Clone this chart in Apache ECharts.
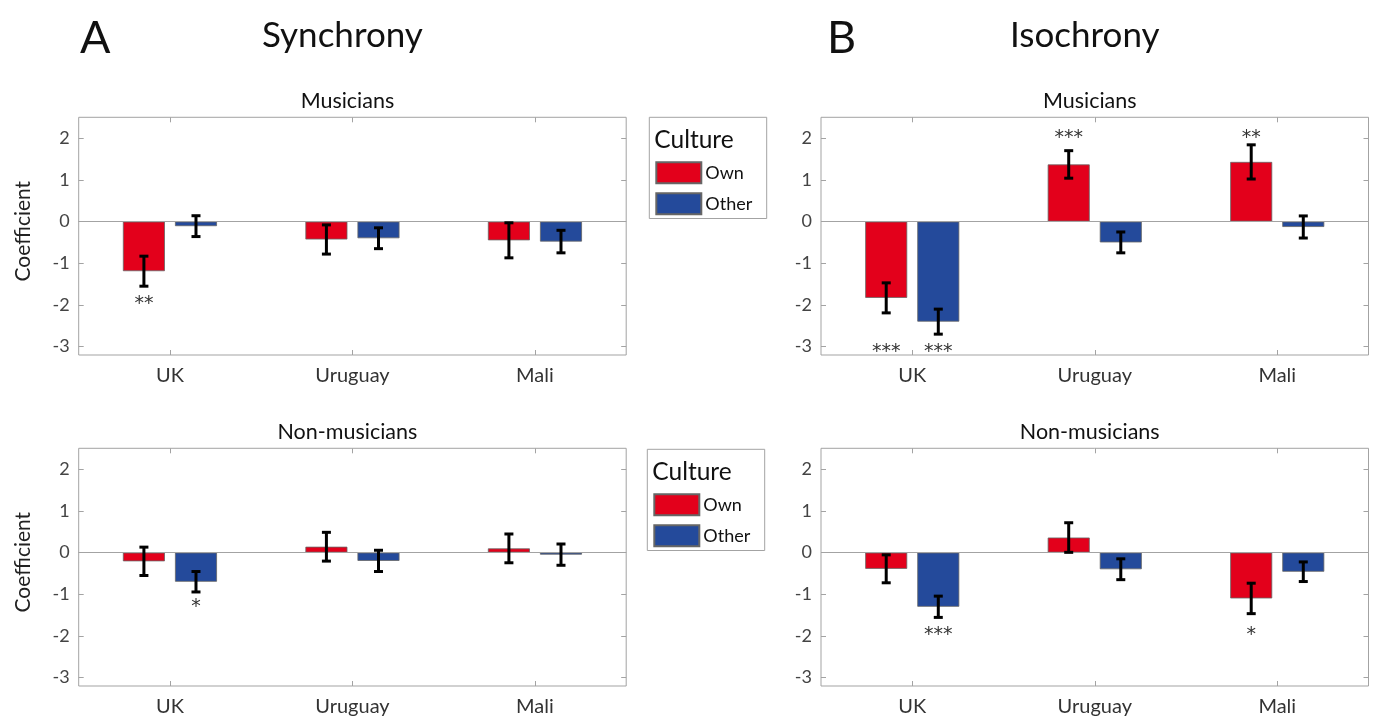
<!DOCTYPE html>
<html>
<head>
<meta charset="utf-8">
<script src="https://cdn.jsdelivr.net/npm/echarts@6/dist/echarts.min.js"></script>
<style>
  html, body { margin: 0; padding: 0; background: #fff; }
  #chart { width: 1378px; height: 718px; }
</style>
</head>
<body>
<div id="chart"></div>
<script>
// ---------- data ----------
const categories = ['UK', 'Uruguay', 'Mali'];
const yTicks = [-3, -2, -1, 0, 1, 2];
const legendNames = ['Own', 'Other'];

// Synchrony – Musicians
const syncMusOwn = [-1.19, -0.43, -0.45];
const syncMusOwnErr = [0.36, 0.35, 0.42];
const syncMusOther = [-0.11, -0.40, -0.48];
const syncMusOtherErr = [0.25, 0.25, 0.27];
const syncMusOwnStars = ['**', '', ''];
const syncMusOwnStarY = [-1.86, null, null];
const syncMusOtherStars = ['', '', ''];
const syncMusOtherStarY = [null, null, null];

// Isochrony – Musicians
const isoMusOwn = [-1.83, 1.37, 1.43];
const isoMusOwnErr = [0.36, 0.33, 0.41];
const isoMusOther = [-2.40, -0.50, -0.13];
const isoMusOtherErr = [0.30, 0.25, 0.265];
const isoMusOwnStars = ['***', '***', '**'];
const isoMusOwnStarY = [-3.02, 2.10, 2.10];
const isoMusOtherStars = ['***', '', ''];
const isoMusOtherStarY = [-3.02, null, null];

// Synchrony – Non-musicians
const syncNonOwn = [-0.21, 0.14, 0.10];
const syncNonOwnErr = [0.34, 0.345, 0.345];
const syncNonOther = [-0.70, -0.20, -0.05];
const syncNonOtherErr = [0.245, 0.255, 0.255];
const syncNonOwnStars = ['', '', ''];
const syncNonOwnStarY = [null, null, null];
const syncNonOtherStars = ['*', '', ''];
const syncNonOtherStarY = [-1.20, null, null];

// Isochrony – Non-musicians
const isoNonOwn = [-0.39, 0.36, -1.10];
const isoNonOwnErr = [0.335, 0.355, 0.365];
const isoNonOther = [-1.30, -0.40, -0.46];
const isoNonOtherErr = [0.255, 0.25, 0.235];
const isoNonOwnStars = ['', '', '*'];
const isoNonOwnStarY = [null, null, -1.87];
const isoNonOtherStars = ['***', '', ''];
const isoNonOtherStarY = [-1.87, null, null];

// ---------- style / layout ----------
const FONT = 'Lato';
const STAR_FONT = '"DejaVu Sans"';
const RED = '#e3001b';
const BLUE = '#244a9b';
const AXIS_GRAY = '#a3a3a3';
const BAR_W = 42;
const BAR_GAP = 0.24;
const OFF = BAR_W * (1 + BAR_GAP) / 2;
const Y_MIN = -3.2, Y_MAX = 2.5;

const panels = [
  { left: 78.7, top: 117.3, sub: 'Musicians', yName: true,
    own: syncMusOwn, ownErr: syncMusOwnErr, other: syncMusOther, otherErr: syncMusOtherErr,
    ownStars: syncMusOwnStars, ownStarY: syncMusOwnStarY, otherStars: syncMusOtherStars, otherStarY: syncMusOtherStarY },
  { left: 821, top: 117.3, sub: 'Musicians', yName: false,
    own: isoMusOwn, ownErr: isoMusOwnErr, other: isoMusOther, otherErr: isoMusOtherErr,
    ownStars: isoMusOwnStars, ownStarY: isoMusOwnStarY, otherStars: isoMusOtherStars, otherStarY: isoMusOtherStarY },
  { left: 78.7, top: 448.3, sub: 'Non-musicians', yName: true,
    own: syncNonOwn, ownErr: syncNonOwnErr, other: syncNonOther, otherErr: syncNonOtherErr,
    ownStars: syncNonOwnStars, ownStarY: syncNonOwnStarY, otherStars: syncNonOtherStars, otherStarY: syncNonOtherStarY },
  { left: 821, top: 448.3, sub: 'Non-musicians', yName: false,
    own: isoNonOwn, ownErr: isoNonOwnErr, other: isoNonOther, otherErr: isoNonOtherErr,
    ownStars: isoNonOwnStars, ownStarY: isoNonOwnStarY, otherStars: isoNonOtherStars, otherStarY: isoNonOtherStarY }
];
const GRID_W = 547.5;
const GRID_H = 237.7;

const grids = [], xAxes = [], yAxes = [], series = [], graphics = [];

function errSeries(values, errs, offset, gi) {
  return {
    type: 'custom', xAxisIndex: gi * 2, yAxisIndex: gi * 2, z: 5, silent: true,
    data: values.map((v, i) => [i, v, errs[i]]),
    renderItem: function (params, api) {
      const c = api.value(0), v = api.value(1), e = api.value(2);
      const x = api.coord([c, v])[0] + offset;
      const yH = api.coord([c, v + e])[1];
      const yL = api.coord([c, v - e])[1];
      const cap = 4.5;
      const st = { stroke: '#000', lineWidth: 3 };
      return { type: 'group', children: [
        { type: 'line', shape: { x1: x, y1: yH, x2: x, y2: yL }, style: st },
        { type: 'line', shape: { x1: x - cap, y1: yH, x2: x + cap, y2: yH }, style: st },
        { type: 'line', shape: { x1: x - cap, y1: yL, x2: x + cap, y2: yL }, style: st }
      ]};
    }
  };
}

function starSeries(texts, ys, offset, gi) {
  const idx = [];
  texts.forEach((t, i) => { if (t) idx.push(i); });
  return {
    type: 'custom', xAxisIndex: gi * 2, yAxisIndex: gi * 2, z: 6, silent: true,
    data: idx.map(i => [i, ys[i]]),
    renderItem: function (params, api) {
      const i = idx[params.dataIndex];
      const p = api.coord([api.value(0), api.value(1)]);
      return { type: 'text', x: p[0] + offset, y: p[1] + 4.5,
        style: { text: texts[i], fill: '#333', font: '19px ' + STAR_FONT, textAlign: 'center', textVerticalAlign: 'middle' } };
    }
  };
}

panels.forEach((p, gi) => {
  grids.push({ left: p.left, top: p.top, width: GRID_W, height: GRID_H, show: true,
    borderColor: AXIS_GRAY, borderWidth: 1, backgroundColor: '#fff' });
  // bottom x axis
  xAxes.push({ type: 'category', gridIndex: gi, data: categories, position: 'bottom',
    axisLine: { show: false, onZero: false },
    axisTick: { show: true, inside: true, alignWithLabel: true, length: 5, lineStyle: { color: AXIS_GRAY } },
    axisLabel: { color: '#333', fontFamily: FONT, fontSize: 20, margin: 11 } });
  // top x axis (ticks only)
  xAxes.push({ type: 'category', gridIndex: gi, data: categories, position: 'top',
    axisLine: { show: false, onZero: false },
    axisTick: { show: true, inside: true, alignWithLabel: true, length: 5, lineStyle: { color: AXIS_GRAY } },
    axisLabel: { show: false } });
  // left y axis
  yAxes.push({ type: 'value', gridIndex: gi, min: Y_MIN, max: Y_MAX, position: 'left',
    axisLine: { show: false, onZero: false }, splitLine: { show: false },
    axisTick: { show: true, inside: true, length: 5, customValues: yTicks, lineStyle: { color: AXIS_GRAY } },
    axisLabel: { customValues: yTicks, color: '#444', fontFamily: FONT, fontSize: 18, margin: 9 },
    name: p.yName ? 'Coefficient' : '', nameLocation: 'middle', nameGap: 45, nameRotate: 90,
    nameTextStyle: { color: '#222', fontFamily: FONT, fontSize: 21, padding: [0, 0, 0, 10] } });
  // right y axis (ticks only)
  yAxes.push({ type: 'value', gridIndex: gi, min: Y_MIN, max: Y_MAX, position: 'right',
    axisLine: { show: false, onZero: false }, splitLine: { show: false },
    axisTick: { show: true, inside: true, length: 5, customValues: yTicks, lineStyle: { color: AXIS_GRAY } },
    axisLabel: { show: false } });

  series.push({ name: 'Own', type: 'bar', xAxisIndex: gi * 2, yAxisIndex: gi * 2,
    data: p.own, barWidth: BAR_W, barGap: (BAR_GAP * 100) + '%',
    itemStyle: { color: RED, borderColor: '#666', borderWidth: 0.8 },
    markLine: { silent: true, symbol: ['none', 'none'], label: { show: false },
      lineStyle: { color: AXIS_GRAY, width: 1.2, type: 'solid' }, data: [{ yAxis: 0 }] } });
  series.push({ name: 'Other', type: 'bar', xAxisIndex: gi * 2, yAxisIndex: gi * 2,
    data: p.other, barWidth: BAR_W, barGap: (BAR_GAP * 100) + '%',
    itemStyle: { color: BLUE, borderColor: '#666', borderWidth: 0.8 } });
  series.push(errSeries(p.own, p.ownErr, -OFF, gi));
  series.push(errSeries(p.other, p.otherErr, OFF, gi));
  series.push(starSeries(p.ownStars, p.ownStarY, -OFF, gi));
  series.push(starSeries(p.otherStars, p.otherStarY, OFF, gi));

  graphics.push({ type: 'text', x: p.left + GRID_W / 2 - 5, y: p.top - 16,
    style: { text: p.sub, fill: '#111', font: '21.5px ' + FONT, textAlign: 'center', textVerticalAlign: 'middle' } });
});

// legend boxes
const legendBoxes = [ { x: 649.3, y: 117.3 }, { x: 647.3, y: 449.3 } ];
legendBoxes.forEach(b => {
  graphics.push({ type: 'rect', z: 1, shape: { x: b.x, y: b.y, width: 117.4, height: 101.2 },
    style: { fill: '#fff', stroke: AXIS_GRAY, lineWidth: 1 } });
  graphics.push({ type: 'text', z: 2, x: b.x + 5, y: b.y + 23,
    style: { text: 'Culture', fill: '#111', font: '24.5px ' + FONT, textVerticalAlign: 'middle' } });
});

// headings
[['A', 80, 38, 45], ['Synchrony', 262, 36, 35], ['B', 827, 38, 45], ['Isochrony', 1010, 36, 35]].forEach(t => {
  graphics.push({ type: 'text', x: t[1], y: t[2],
    style: { text: t[0], fill: '#111', font: t[3] + 'px ' + FONT, textVerticalAlign: 'middle' } });
});

const legends = legendBoxes.map(b => ({
  data: legendNames, orient: 'vertical', left: b.x + 1, top: b.y + 39,
  itemWidth: 45, itemHeight: 21, itemGap: 8, icon: 'rect', selectedMode: false, z: 10,
  textStyle: { fontFamily: FONT, fontSize: 18, color: '#111', padding: [0, 0, 0, -1] }
}));

const chart = echarts.init(document.getElementById('chart'), null, { renderer: 'canvas' });
chart.setOption({
  animation: false,
  backgroundColor: '#fff',
  textStyle: { fontFamily: FONT },
  grid: grids,
  xAxis: xAxes,
  yAxis: yAxes,
  legend: legends,
  series: series,
  graphic: graphics
});
</script>
</body>
</html>
